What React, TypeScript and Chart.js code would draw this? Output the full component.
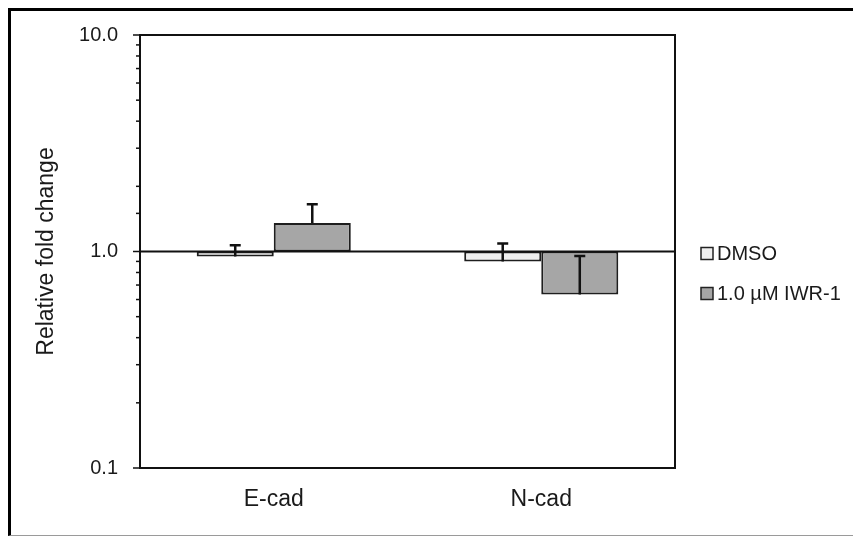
import React, { useEffect, useRef } from 'react';
import { Chart, registerables } from 'chart.js';

Chart.register(...registerables);

const categories = ['E-cad', 'N-cad'];
const seriesNames = ['DMSO', '1.0 µM IWR-1'];
const dmsoValues = [0.948, 0.899];
const iwrValues = [1.353, 0.633];
const dmsoErrors = [0.12, 0.19];
const iwrErrors = [0.3, 0.32];
const majorTicks = [0.1, 1, 10];
const yTickLabels = ['0.1', '1.0', '10.0'];
const baseline = 1.0;
const yTitle = 'Relative fold change';

const FONT = "'Liberation Sans', Arial, Helvetica, sans-serif";
const INK = '#1a1a1a';

const decorPlugin = {
  id: 'decor',
  afterDatasetsDraw(chart: any) {
    const { ctx, chartArea: a, scales } = chart;
    const y = scales.y;
    ctx.save();
    // baseline at 1.0
    const yb = y.getPixelForValue(baseline);
    ctx.strokeStyle = '#111';
    ctx.lineWidth = 2;
    ctx.beginPath();
    ctx.moveTo(a.left, yb);
    ctx.lineTo(a.right, yb);
    ctx.stroke();

    // error bars
    chart.data.datasets.forEach((ds: any, i: number) => {
      const meta = chart.getDatasetMeta(i);
      meta.data.forEach((el: any, j: number) => {
        const v = ds.data[j][1];
        const yv = y.getPixelForValue(v);
        const yt = y.getPixelForValue(v + ds.errors[j]);
        ctx.strokeStyle = '#111';
        ctx.lineWidth = 2.5;
        ctx.beginPath();
        ctx.moveTo(el.x, yv);
        ctx.lineTo(el.x, yt);
        ctx.moveTo(el.x - 5.5, yt);
        ctx.lineTo(el.x + 5.5, yt);
        ctx.stroke();
      });
    });

    // plot frame
    ctx.strokeStyle = '#111';
    ctx.lineWidth = 2;
    ctx.strokeRect(a.left, a.top, a.right - a.left, a.bottom - a.top);

    // y tick marks (major longer, minor shorter)
    ctx.lineWidth = 1.5;
    y.ticks.forEach((t: any) => {
      const lg = Math.log10(t.value);
      const major = Math.abs(lg - Math.round(lg)) < 1e-6;
      const len = major ? 7 : 4;
      const py = y.getPixelForValue(t.value);
      ctx.beginPath();
      ctx.moveTo(a.left - len, py);
      ctx.lineTo(a.left, py);
      ctx.stroke();
    });

    // legend
    const cy = (a.top + a.bottom) / 2;
    chart.data.datasets.forEach((ds: any, i: number) => {
      const x0 = a.right + 26;
      const yc = cy + 2 + i * 40;
      ctx.fillStyle = ds.backgroundColor;
      ctx.fillRect(x0, yc - 6, 12, 12);
      ctx.strokeStyle = '#222';
      ctx.lineWidth = 1.5;
      ctx.strokeRect(x0, yc - 6, 12, 12);
      ctx.fillStyle = INK;
      ctx.font = `20px ${FONT}`;
      ctx.textAlign = 'left';
      ctx.textBaseline = 'middle';
      ctx.fillText(ds.label, x0 + 16, yc + 1);
    });
    ctx.restore();
  },
};

function ChartView() {
  const ref = useRef<HTMLCanvasElement | null>(null);
  useEffect(() => {
    document.documentElement.style.overflow = 'hidden';
    document.body.style.overflow = 'hidden';
    if (!ref.current) return;
    const chart = new Chart(ref.current, {
      type: 'bar',
      data: {
        labels: categories,
        datasets: [
          {
            label: seriesNames[0],
            data: dmsoValues.map((v) => [baseline, v]),
            errors: dmsoErrors,
            backgroundColor: '#efefef',
            borderColor: '#1e1e1e',
            borderWidth: 2,
            borderSkipped: false,
          } as any,
          {
            label: seriesNames[1],
            data: iwrValues.map((v) => [baseline, v]),
            errors: iwrErrors,
            backgroundColor: '#a6a6a6',
            borderColor: '#1e1e1e',
            borderWidth: 2,
            borderSkipped: false,
          } as any,
        ],
      },
      options: {
        responsive: false,
        animation: false,
        devicePixelRatio: 1,
        layout: { padding: { left: 22, top: 24, right: 186, bottom: 7 } },
        datasets: { bar: { categoryPercentage: 0.576, barPercentage: 1 } },
        plugins: {
          legend: { display: false },
          tooltip: { enabled: false },
        },
        scales: {
          x: {
            type: 'category',
            offset: true,
            grid: { display: false, drawTicks: false },
            border: { display: false },
            ticks: {
              color: INK,
              padding: 18,
              font: { family: FONT, size: 23 },
              maxRotation: 0,
            },
            afterFit: (s: any) => {
              s.height = 60;
            },
          },
          y: {
            type: 'logarithmic',
            min: 0.1,
            max: 10,
            grid: { display: false, drawTicks: false },
            border: { display: false },
            ticks: {
              autoSkip: false,
              color: INK,
              padding: 22,
              font: { family: FONT, size: 20 },
              callback: (v: any) => {
                const idx = majorTicks.findIndex((m) => Math.abs(m - Number(v)) / m < 1e-6);
                return idx >= 0 ? yTickLabels[idx] : '';
              },
            },
            title: {
              display: true,
              text: yTitle,
              color: INK,
              padding: { top: 0, bottom: 0 },
              font: { family: FONT, size: 23 },
            },
            afterFit: (s: any) => {
              s.width = 107;
              s.paddingTop = 0;
              s.paddingBottom = 0;
            },
          },
        },
      },
      plugins: [decorPlugin],
    } as any);
    return () => chart.destroy();
  }, []);
  return <canvas ref={ref} width={850} height={524} style={{ display: 'block' }} />;
}

export default function App() {
  return (
    <div
      style={{
        width: 853,
        height: 528,
        boxSizing: 'border-box',
        borderTop: '3px solid #000',
        borderLeft: '3px solid #000',
        borderBottom: '1px solid #9a9a9a',
        background: '#fff',
        overflow: 'hidden',
      }}
    >
      <ChartView />
    </div>
  );
}
